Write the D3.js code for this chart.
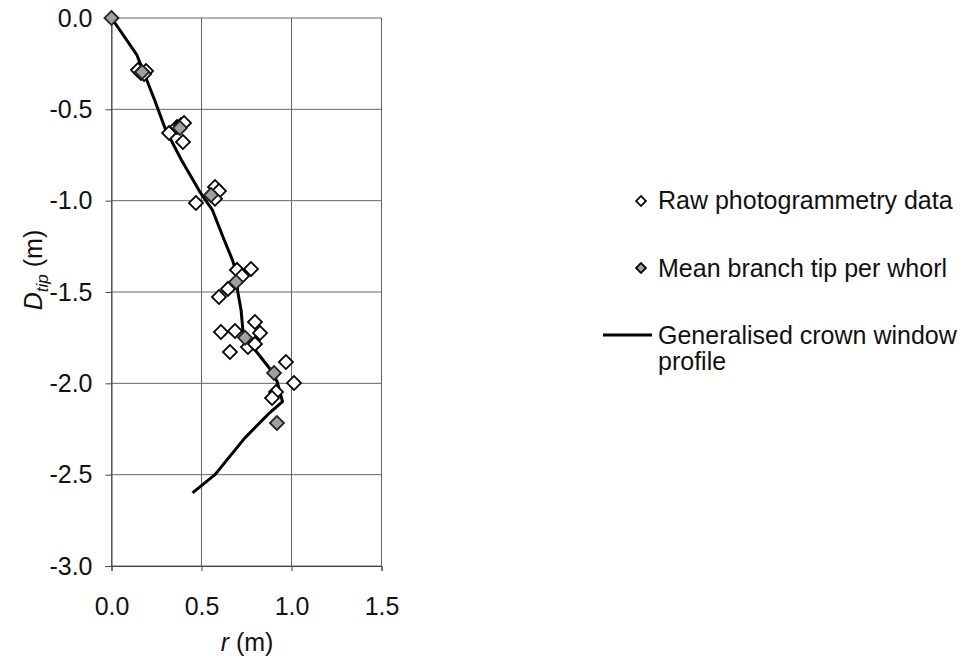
<!DOCTYPE html>
<html><head><meta charset="utf-8">
<script src="https://cdn.jsdelivr.net/npm/d3@7/dist/d3.min.js"></script>
<style>body{margin:0;background:#fff;} text{font-family:"Liberation Sans",Arial,Helvetica,sans-serif;}</style>
</head><body><svg id="c" width="960" height="664"></svg>
<script>
const xTicks = [0.0, 0.5, 1.0, 1.5];
const yTicks = [0.0, -0.5, -1.0, -1.5, -2.0, -2.5, -3.0];
const rawR = [0.147,0.164,0.192,0.181, 0.32,0.364,0.386,0.403,0.397, 0.469,0.575,0.597,0.575, 0.597,0.647,0.697,0.725,0.775, 0.608,0.686,0.797,0.825,0.758,0.797,0.658, 0.969,1.014,0.914,0.892];
const rawD = [-0.285,-0.301,-0.290,-0.307, -0.63,-0.597,-0.586,-0.575,-0.679, -1.013,-0.925,-0.947,-0.99, -1.527,-1.483,-1.379,-1.412,-1.374, -1.719,-1.713,-1.664,-1.724,-1.801,-1.784,-1.828, -1.883,-1.998,-2.047,-2.080];
const meanR = [0.0, 0.17, 0.38, 0.553, 0.692, 0.742, 0.903, 0.919];
const meanD = [0.0, -0.296, -0.602, -0.969, -1.445, -1.751, -1.943, -2.217];
const lineR = [0.00,0.14,0.24,0.30,0.39,0.49,0.56,0.62,0.67,0.70,0.70,0.72,0.73,0.75,0.80,0.88,0.92,0.95,0.88,0.74,0.575,0.45];
const lineD = [0.00,-0.20,-0.45,-0.61,-0.78,-0.95,-1.05,-1.20,-1.32,-1.41,-1.49,-1.60,-1.71,-1.76,-1.82,-1.92,-1.99,-2.10,-2.16,-2.30,-2.50,-2.60];
const legendLabels = ["Raw photogrammetry data", "Mean branch tip per whorl", "Generalised crown window", "profile"];

const svg = d3.select("#c");
const L = 111.5, R = 381.5, T = 18, B = 566;
const x = d3.scaleLinear().domain([0, 1.5]).range([L, R]);
const y = d3.scaleLinear().domain([0, -3]).range([T, B]);
const fmt = v => d3.format(".1f")(v).replace("\u2212", "-");
const FS = 25;

// grid
const g = svg.append("g");
g.selectAll(".gx").data(xTicks).enter().append("line")
  .attr("x1", d => x(d)).attr("x2", d => x(d)).attr("y1", T).attr("y2", B)
  .attr("stroke", "#666").attr("stroke-width", 1);
g.selectAll(".gy").data(yTicks).enter().append("line")
  .attr("x1", L).attr("x2", R).attr("y1", d => y(d)).attr("y2", d => y(d))
  .attr("stroke", "#666").attr("stroke-width", 1);

// axes
const ax = svg.append("g").attr("transform", `translate(0,${B})`)
  .call(d3.axisBottom(x).tickValues(xTicks).tickFormat(fmt).tickSize(5).tickPadding(26));
const ay = svg.append("g").attr("transform", `translate(${L},0)`)
  .call(d3.axisLeft(y).tickValues(yTicks).tickFormat(fmt).tickSize(6).tickPadding(13));
[ax, ay].forEach(a => {
  a.select(".domain").attr("stroke", "#444");
  a.selectAll(".tick line").attr("stroke", "#444");
  a.selectAll("text").attr("font-size", FS).attr("fill", "#111")
    .style("font-family", '"Liberation Sans",Arial,sans-serif');
});
ax.selectAll("text").attr("dy", "0.71em");

// line
const line = d3.line().x(d => x(d[0])).y(d => y(d[1]));
svg.append("path").datum(lineR.map((r, i) => [r, lineD[i]]))
  .attr("d", line).attr("fill", "none").attr("stroke", "#000")
  .attr("stroke-width", 3).attr("stroke-linejoin", "round");

const sym = d3.symbol().type(d3.symbolSquare).size(98);
// raw
svg.selectAll(".raw").data(rawR.map((r, i) => [r, rawD[i]])).enter().append("path")
  .attr("d", sym).attr("transform", d => `translate(${x(d[0])},${y(d[1])}) rotate(45)`)
  .attr("fill", "#fff").attr("stroke", "#000").attr("stroke-width", 1.8);
// mean
svg.selectAll(".mean").data(meanR.map((r, i) => [r, meanD[i]])).enter().append("path")
  .attr("d", sym).attr("transform", d => `translate(${x(d[0])},${y(d[1])}) rotate(45)`)
  .attr("fill", "#a0a0a0").attr("stroke", "#222").attr("stroke-width", 1.8);

// axis titles
svg.append("text").attr("x", 247).attr("y", 651).attr("text-anchor", "middle")
  .attr("font-size", FS).attr("fill", "#111")
  .html('<tspan font-style="italic">r</tspan> (m)');
const yt = svg.append("text").attr("transform", "translate(42,270) rotate(-90)")
  .attr("text-anchor", "middle").attr("font-size", FS).attr("fill", "#111");
yt.append("tspan").attr("font-style", "italic").text("D");
yt.append("tspan").attr("font-style", "italic").attr("font-size", 17).attr("dy", 6).text("tip");
yt.append("tspan").attr("dy", -6).text(" (m)");

// legend
const lg = svg.append("g");
const symL = d3.symbol().type(d3.symbolSquare).size(48);
lg.append("path").attr("d", symL).attr("transform", "translate(641,201) rotate(45)")
  .attr("fill", "#fff").attr("stroke", "#000").attr("stroke-width", 1.8);
lg.append("path").attr("d", symL).attr("transform", "translate(641,268) rotate(45)")
  .attr("fill", "#a0a0a0").attr("stroke", "#000").attr("stroke-width", 1.8);
lg.append("line").attr("x1", 603).attr("x2", 652).attr("y1", 335).attr("y2", 335)
  .attr("stroke", "#000").attr("stroke-width", 3);
const ly = [209, 277, 344, 370];
lg.selectAll(".lt").data(legendLabels).enter().append("text")
  .attr("x", 658).attr("y", (d, i) => ly[i]).attr("font-size", FS).attr("fill", "#111")
  .text(d => d);
</script></body></html>
